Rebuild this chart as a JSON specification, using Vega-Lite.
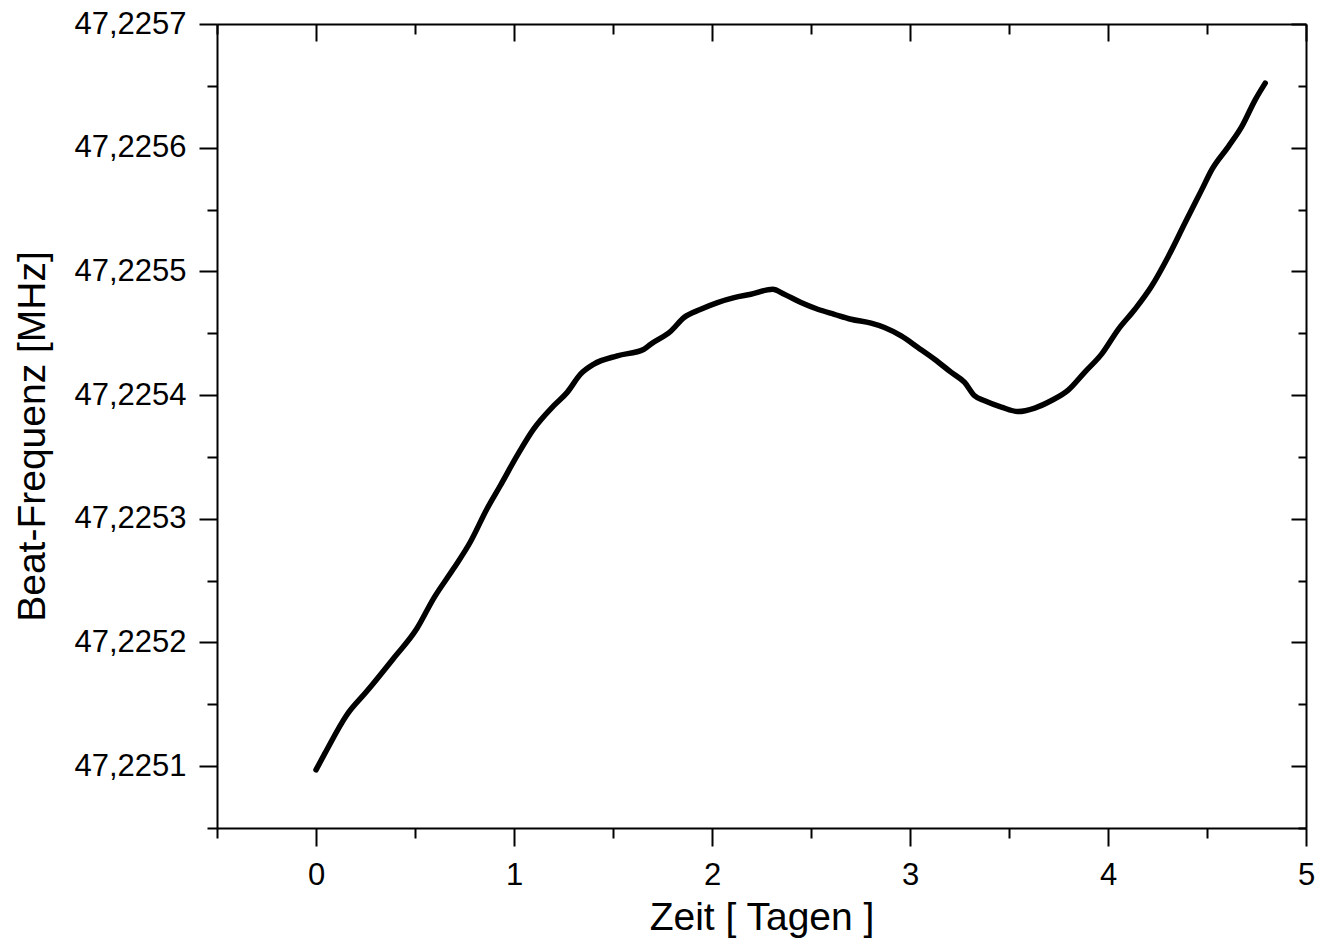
{
  "$schema": "https://vega.github.io/schema/vega-lite/v6.json",
  "width": 1089,
  "height": 804,
  "autosize": {"type": "none"},
  "padding": {"left": 217, "top": 24, "right": 11, "bottom": 114},
  "background": "white",
  "config": {
    "view": {"stroke": null},
    "axis": {
      "grid": false,
      "domainColor": "black",
      "domainWidth": 2,
      "tickColor": "black",
      "tickWidth": 2,
      "labelFont": "Liberation Sans",
      "labelFontSize": 31,
      "labelColor": "black",
      "titleFont": "Liberation Sans",
      "titleFontSize": 39,
      "titleFontWeight": "normal",
      "titleColor": "black",
      "labelOverlap": false,
      "labelFlush": false,
      "labelBound": false
    }
  },
  "data": {
    "values": [
      {"t": 0.0, "f": 47.225097},
      {"t": 0.0455, "f": 47.2251105},
      {"t": 0.1554, "f": 47.2251414},
      {"t": 0.2566, "f": 47.2251605},
      {"t": 0.3912, "f": 47.2251871},
      {"t": 0.5096, "f": 47.2252113},
      {"t": 0.5936, "f": 47.2252355},
      {"t": 0.6948, "f": 47.2252597},
      {"t": 0.7794, "f": 47.2252812},
      {"t": 0.8639, "f": 47.2253081},
      {"t": 0.9312, "f": 47.2253269},
      {"t": 1.0157, "f": 47.225351},
      {"t": 1.0997, "f": 47.2253726},
      {"t": 1.2009, "f": 47.2253914},
      {"t": 1.2687, "f": 47.2254022},
      {"t": 1.336, "f": 47.2254169},
      {"t": 1.4033, "f": 47.225425},
      {"t": 1.5217, "f": 47.2254317},
      {"t": 1.6564, "f": 47.2254371},
      {"t": 1.6903, "f": 47.2254411},
      {"t": 1.7915, "f": 47.2254516},
      {"t": 1.8588, "f": 47.2254627},
      {"t": 1.9433, "f": 47.2254694},
      {"t": 2.0278, "f": 47.2254748},
      {"t": 2.1118, "f": 47.2254788},
      {"t": 2.1964, "f": 47.2254815},
      {"t": 2.3062, "f": 47.2254855},
      {"t": 2.3649, "f": 47.2254815},
      {"t": 2.4494, "f": 47.2254748},
      {"t": 2.5339, "f": 47.2254694},
      {"t": 2.6179, "f": 47.2254653},
      {"t": 2.7024, "f": 47.2254613},
      {"t": 2.8036, "f": 47.2254581},
      {"t": 2.871, "f": 47.2254546},
      {"t": 2.9555, "f": 47.2254478},
      {"t": 3.04, "f": 47.2254385},
      {"t": 3.124, "f": 47.225429},
      {"t": 3.2085, "f": 47.2254183},
      {"t": 3.2758, "f": 47.2254102},
      {"t": 3.3264, "f": 47.2253994},
      {"t": 3.377, "f": 47.2253954},
      {"t": 3.4615, "f": 47.2253903},
      {"t": 3.546, "f": 47.2253867},
      {"t": 3.63, "f": 47.2253895},
      {"t": 3.7146, "f": 47.2253956},
      {"t": 3.7991, "f": 47.225404},
      {"t": 3.8831, "f": 47.2254186},
      {"t": 3.9676, "f": 47.2254331},
      {"t": 4.0521, "f": 47.2254532},
      {"t": 4.1361, "f": 47.2254694},
      {"t": 4.2206, "f": 47.2254882},
      {"t": 4.3052, "f": 47.2255123},
      {"t": 4.3892, "f": 47.2255393},
      {"t": 4.4737, "f": 47.2255661},
      {"t": 4.5243, "f": 47.2255823},
      {"t": 4.6088, "f": 47.2256011},
      {"t": 4.6761, "f": 47.2256172},
      {"t": 4.7434, "f": 47.2256387},
      {"t": 4.794, "f": 47.2256522}
    ]
  },
  "layer": [
    {
      "mark": {"type": "line", "color": "black", "strokeWidth": 5.5, "strokeJoin": "round", "strokeCap": "round", "interpolate": "monotone"},
      "encoding": {
        "x": {
          "field": "t", "type": "quantitative",
          "scale": {"domain": [-0.5, 5], "nice": false, "zero": false},
          "axis": {
            "orient": "bottom",
            "values": [-0.5, 0, 0.5, 1, 1.5, 2, 2.5, 3, 3.5, 4, 4.5, 5],
            "labelExpr": "datum.value % 1 === 0 ? format(datum.value, 'd') : ''",
            "tickSize": {"condition": {"test": "datum.value % 1 === 0", "value": 18}, "value": 10},
            "labelPadding": 14,
            "title": "Zeit [ Tagen ]",
            "titlePadding": 8
          }
        },
        "y": {
          "field": "f", "type": "quantitative",
          "scale": {"domain": [47.22505, 47.2257], "nice": false, "zero": false},
          "axis": {
            "orient": "left",
            "values": [47.22505, 47.2251, 47.22515, 47.2252, 47.22525, 47.2253, 47.22535, 47.2254, 47.22545, 47.2255, 47.22555, 47.2256, 47.22565, 47.2257],
            "labelExpr": "abs(round(datum.value * 10000) - datum.value * 10000) < 0.01 ? replace(format(datum.value, '.4f'), '.', ',') : ''",
            "tickSize": {"condition": {"test": "abs(round(datum.value * 10000) - datum.value * 10000) < 0.01", "value": 18}, "value": 10},
            "labelPadding": 13,
            "title": "Beat-Frequenz [MHz]",
            "titlePadding": 21,
            "titleY": 412
          }
        }
      }
    },
    {
      "mark": {"type": "line", "color": "black", "opacity": 0},
      "encoding": {
        "x": {
          "field": "t", "type": "quantitative",
          "axis": {
            "orient": "top",
            "values": [-0.5, 0, 0.5, 1, 1.5, 2, 2.5, 3, 3.5, 4, 4.5, 5],
            "labels": false,
            "title": null,
            "tickSize": {"condition": {"test": "datum.value % 1 === 0", "value": -17}, "value": -10}
          }
        },
        "y": {
          "field": "f", "type": "quantitative",
          "axis": {
            "orient": "right",
            "values": [47.22505, 47.2251, 47.22515, 47.2252, 47.22525, 47.2253, 47.22535, 47.2254, 47.22545, 47.2255, 47.22555, 47.2256, 47.22565, 47.2257],
            "labels": false,
            "title": null,
            "tickSize": {"condition": {"test": "abs(round(datum.value * 10000) - datum.value * 10000) < 0.01", "value": -15}, "value": -8}
          }
        }
      }
    }
  ],
  "resolve": {"axis": {"x": "independent", "y": "independent"}}
}
